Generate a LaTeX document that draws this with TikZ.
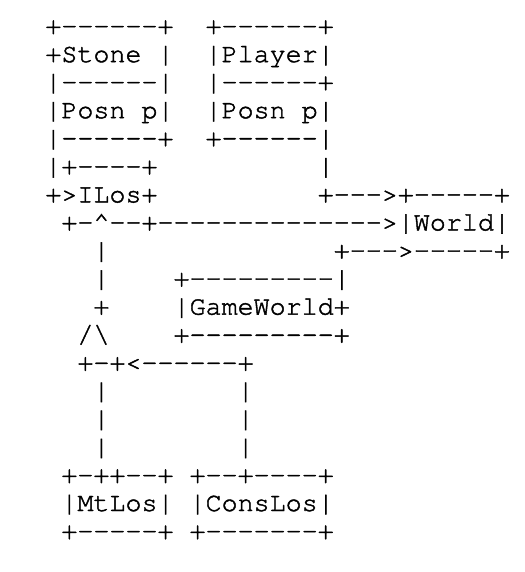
\documentclass[tikz,border=0pt]{standalone}
\usepackage{fontspec}
\setmonofont{texgyrecursor}[Extension=.otf, UprightFont=*-regular, FakeBold=1.6]
\usetikzlibrary{positioning}

\begin{document}
\begin{tikzpicture}[
    x=0.5pt, y=-0.5pt,
    row/.style={anchor=base west, inner sep=0pt, font=\fontsize{13.35}{14}\selectfont\ttfamily},
]
\useasboundingbox (0,0) rectangle (524,572);

% === Stone and Player boxes ===
\node[row] (stonetop)   at (45,34)    {+------+~~+------+};
\node[row] (stonename)  at (45,62.1)  {+Stone~|~~|Player|};
\node[row] (stonesep)   at (45,90.1)  {|------|~~|------+};
\node[row] (stoneposn)  at (45,118.2) {|Posn~p|~~|Posn~p|};
\node[row] (stonebot)   at (45,146.2) {|------+~~+------|};

% === ILos and World ===
\node[row] (ilostop)    at (45,174.3) {|+----+~~~~~~~~~~|};
\node[row] (ilosname)   at (45,202.4) {+>ILos+~~~~~~~~~~+--->+-----+};
\node[row] (worldname)  at (45,230.4) {~+-\textasciicircum--+-------------->|World|};
\node[row] (worldbot)   at (45,258.5) {~~~|~~~~~~~~~~~~~~+--->-----+};

% === GameWorld ===
\node[row] (gametop)    at (45,286.5) {~~~|~~~~+---------|};
\node[row] (gamename)   at (45,314.6) {~~~+~~~~|GameWorld+};
\node[row] (gamebot)    at (45,342.7) {~~/\textbackslash~~~~+---------+};

% === fork down to MtLos and ConsLos ===
\node[row] (fork)       at (45,370.7) {~~+-+<------+};
\node[row] (stem1)      at (45,398.8) {~~~|~~~~~~~~|};
\node[row] (stem2)      at (45,426.8) {~~~|~~~~~~~~|};
\node[row] (stem3)      at (45,454.9) {~~~|~~~~~~~~|};
\node[row] (lostop)     at (45,483.0) {~+-++--+~+--+----+};
\node[row] (losname)    at (45,511.0) {~|MtLos|~|ConsLos|};
\node[row] (losbot)     at (45,539.1) {~+-----+~+-------+};

\end{tikzpicture}
\end{document}
